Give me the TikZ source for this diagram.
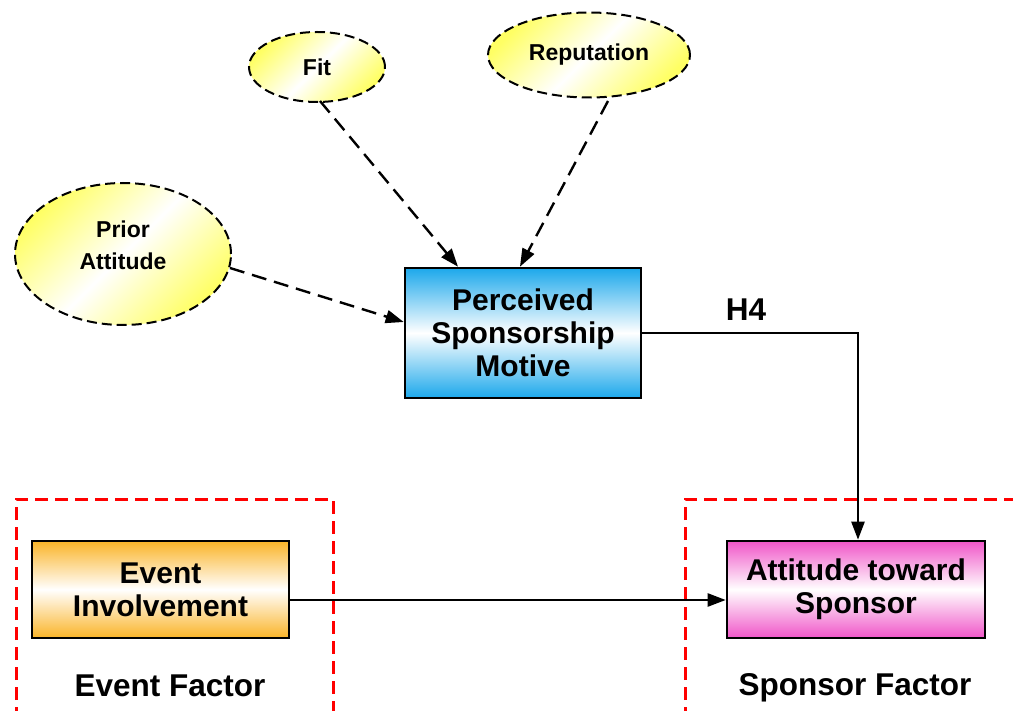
\documentclass[tikz,border=0pt]{standalone}
\usepackage{fontspec}
\setmainfont{Liberation Sans}
\usetikzlibrary{arrows.meta,shapes.geometric}
\definecolor{skyblue}{RGB}{28,168,235}
\definecolor{amber}{RGB}{250,180,40}
\definecolor{orchid}{RGB}{240,85,200}
\definecolor{lemon}{RGB}{255,255,100}
\tikzset{
  construct/.style={ellipse, draw, line width=2pt, dash pattern=on 10pt off 5pt,
    top color=lemon, bottom color=lemon, middle color=white, shading angle=45,
    font=\bfseries\fontsize{23}{32}\selectfont, align=center, inner sep=0pt},
  factorbox/.style={rectangle, draw, line width=2.6pt, align=center,
    font=\bfseries\fontsize{30}{33}\selectfont, inner sep=0pt},
  influence/.style={line width=2.4pt, dash pattern=on 15pt off 8pt,
    -{Triangle[length=18pt,width=13pt]}},
  path/.style={line width=2.4pt, -{Triangle[length=18pt,width=13pt]}},
  zone/.style={draw=red, line width=3pt, dash pattern=on 13pt off 7pt},
  caption/.style={font=\bfseries\fontsize{31.5}{36}\selectfont}
}
\begin{document}
\begin{tikzpicture}[x=1pt,y=-1pt]
\useasboundingbox (0,0) rectangle (1013,711);
\fill[white] (0,0) rectangle (1013,711);

% factor zones, running past the lower edge
\begin{scope}
  \clip (0,0) rectangle (1013,711);
  \draw[zone] (16,740) -- (16,499) -- (333,499) -- (333,740);
  \draw[zone] (685,740) -- (685,499) -- (1040,499);
\end{scope}

% antecedents
\node[construct, minimum width=136pt, minimum height=70pt] (fit) at (317,67) {Fit};
\node[construct, minimum width=202pt, minimum height=85pt] (rep) at (589,55) {Reputation};
\node[construct, minimum width=216pt, minimum height=142pt, text depth=17pt] (prior) at (123,254) {Prior\\Attitude};

% constructs
\node[factorbox, minimum width=236pt, minimum height=130pt,
  top color=skyblue, bottom color=skyblue, middle color=white] (psm) at (523,333)
  {Perceived\\Sponsorship\\Motive};
\node[factorbox, minimum width=257pt, minimum height=97pt,
  top color=amber, bottom color=amber, middle color=white] (ei) at (160.5,589.5)
  {Event\\Involvement};
\node[factorbox, minimum width=258pt, minimum height=97pt,
  top color=orchid, bottom color=orchid, middle color=white] (ats) at (856,589.5)
  {Attitude toward\\Sponsor};

% antecedent influences
\draw[influence] (320,101) -- (psm.north -| 458,0);
\draw[influence] (608,101) -- (psm.north -| 520,0);
\draw[influence] (prior.east |- 0,268) ++(-2,0) -- (psm.west |- 0,322);

% hypothesised paths
\coordinate (bend) at (858,333);
\draw[path] (psm.east) -- (bend) -- (ats.north -| bend);
\draw[path] (ei.east |- 0,600) -- (ats.west |- 0,600);

% labels
\node[caption] (h4) at (746,310) {H4};
\node[caption] (ef) at (170,686) {Event Factor};
\node[caption] (sf) at (855,688) {Sponsor Factor};
\end{tikzpicture}
\end{document}
